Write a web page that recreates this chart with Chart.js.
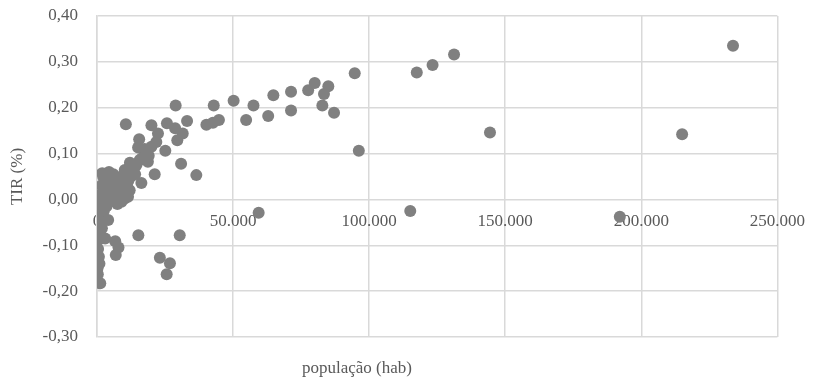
<!DOCTYPE html>
<html>
<head>
<meta charset="utf-8">
<script src="https://cdn.jsdelivr.net/npm/chart.js@4.4.1/dist/chart.umd.min.js"></script>
<style>
  html, body { margin: 0; padding: 0; background: #ffffff; }
  #wrap { width: 817px; height: 380px; position: relative; }
</style>
</head>
<body>
<div id="wrap"><canvas id="c" width="817" height="380"></canvas></div>
<script>
// população (hab)
const populacao = [
  233700, 215000, 144400, 192100, 115100, 117500, 123300, 131200, 94700, 96200,
  59400, 36500, 40200, 42600, 44800, 42900, 50200, 54800, 57500, 62900,
  64800, 71300, 71300, 77600, 80000, 85000, 83400, 82800, 87100, 28900,
  10600, 20000, 25700, 33100, 28700, 31500, 22400, 29500, 21800, 15500,
  15100, 20000, 25100, 18100, 15700, 18700, 12100, 30900, 21200, 16300,
  10200, 4400, 2300, 1700, 0, 10200, 7200, 5300,
  15200, 30400, 6700, 7900, 6900, 23100, 26800, 25600, 1200, 300,
  500, 800, 1500, 1000, 600, 400, 700, 900, 3000, 4100, 1800, 2500, 3500, 200,
  3000, 5000, 6500, 8500, 9500, 11500, 12500, 13500, 14500, 8000,
  6000, 3500, 2000, 7500, 9000, 4500, 11000, 13000, 16500, 17500,
  9000, 7000, 5500, 1900, 12000, 10500, 14000, 19000, 11400, 1000
];
// TIR (%)
const tir = [
  0.335, 0.142, 0.146, -0.038, -0.025, 0.277, 0.293, 0.316, 0.275, 0.106,
  -0.029, 0.053, 0.163, 0.167, 0.173, 0.205, 0.215, 0.173, 0.205, 0.182,
  0.227, 0.235, 0.194, 0.238, 0.254, 0.247, 0.230, 0.205, 0.189, 0.205,
  0.164, 0.162, 0.166, 0.171, 0.155, 0.144, 0.144, 0.129, 0.125, 0.131,
  0.113, 0.115, 0.106, 0.100, 0.086, 0.082, 0.080, 0.078, 0.055, 0.036,
  0.064, 0.060, 0.049, 0.031, 0.002, 0.002, 0.020, 0.038,
  -0.078, -0.078, -0.091, -0.105, -0.121, -0.127, -0.139, -0.163, -0.183, -0.163,
  -0.010, -0.030, -0.048, -0.068, -0.088, -0.108, -0.125, -0.140, -0.085, -0.045, -0.063, -0.025, -0.015, -0.150,
  0.010, 0.005, 0.015, 0.010, 0.025, 0.040, 0.050, 0.065, 0.075, 0.045,
  0.055, 0.030, 0.015, -0.010, -0.005, -0.005, 0.030, 0.060, 0.090, 0.110,
  0.050, 0.035, 0.025, 0.057, 0.020, 0.045, 0.055, 0.095, 0.006, -0.002
];
const xTicks = [0, 50000, 100000, 150000, 200000, 250000];
const yTicks = [-0.30, -0.20, -0.10, 0.00, 0.10, 0.20, 0.30, 0.40];
const xTitle = 'população (hab)';
const yTitle = 'TIR (%)';

const points = populacao.map((p, i) => ({ x: p, y: tir[i] }));
const FONT = "'Liberation Serif', 'Times New Roman', serif";
const TXT = '#595959';
const GRID = '#d9d9d9';

const fmtX = v => v === 0 ? '0' : Math.round(v).toString().replace(/\B(?=(\d{3})+(?!\d))/g, '.');
const fmtY = v => v.toFixed(2).replace('.', ',');

const xTitlePlugin = {
  id: 'xTitle',
  afterDraw(chart) {
    const ctx = chart.ctx;
    ctx.save();
    ctx.font = '17px ' + FONT;
    ctx.fillStyle = TXT;
    ctx.textAlign = 'center';
    ctx.textBaseline = 'middle';
    ctx.fillText(xTitle, 357, 369);
    ctx.restore();
  }
};

new Chart(document.getElementById('c'), {
  type: 'scatter',
  data: {
    datasets: [{
      data: points,
      xAxisID: 'x',
      yAxisID: 'y',
      backgroundColor: '#808080',
      borderColor: '#808080',
      borderWidth: 0,
      pointRadius: 6,
      pointHoverRadius: 6
    }]
  },
  options: {
    responsive: false,
    animation: false,
    layout: { padding: { left: 0, right: 36, top: 16, bottom: 43 } },
    plugins: { legend: { display: false }, tooltip: { enabled: false } },
    scales: {
      x: {
        type: 'linear',
        position: { y: 0 },
        min: 0, max: 250000,
        afterBuildTicks: s => { s.ticks = xTicks.map(v => ({ value: v })); },
        grid: { color: GRID, lineWidth: 1.5, drawTicks: false },
        border: { display: false },
        ticks: { display: false }
      },
      xLabels: {
        type: 'linear',
        axis: 'x',
        position: { y: 0 },
        min: 0, max: 250000,
        z: 1,
        afterBuildTicks: s => { s.ticks = xTicks.map(v => ({ value: v })); },
        grid: { display: false, drawTicks: false },
        border: { display: false },
        ticks: { color: TXT, font: { family: FONT, size: 17 }, padding: 12, maxRotation: 0, callback: v => fmtX(v) }
      },
      y: {
        type: 'linear',
        min: -0.30, max: 0.40,
        afterFit: s => { s.width = 97; s.paddingTop = 0; s.paddingBottom = 0; },
        afterBuildTicks: s => { s.ticks = yTicks.map(v => ({ value: v })); },
        grid: { color: GRID, lineWidth: 1.5, drawTicks: false },
        border: { color: GRID, width: 1.5 },
        ticks: { color: TXT, font: { family: FONT, size: 17 }, padding: 19, callback: v => fmtY(v) },
        title: { display: true, text: yTitle, color: TXT, font: { family: FONT, size: 17 }, padding: { top: 7, bottom: 0 } }
      }
    }
  },
  plugins: [xTitlePlugin]
});
</script>
</body>
</html>
